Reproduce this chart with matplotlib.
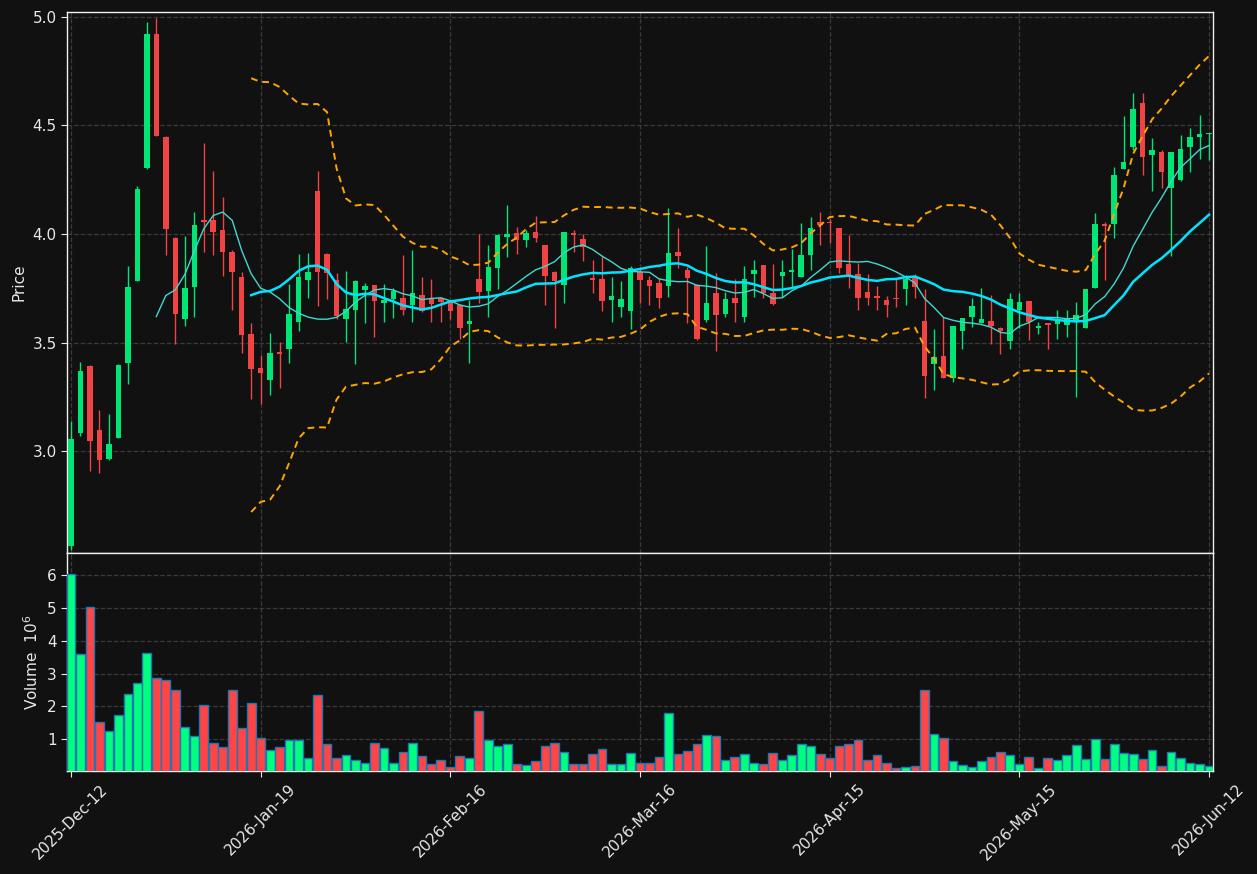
import numpy as np
import matplotlib
matplotlib.use("Agg")
import matplotlib.pyplot as plt

opens = [2.56, 3.084, 3.393, 3.097, 2.965, 3.062, 3.404, 3.785, 4.302, 4.922,
         4.448, 3.983, 3.610, 3.754, 4.065, 4.066, 4.020, 3.919, 3.803, 3.541,
         3.384, 3.326, 3.458, 3.469, 3.593, 3.786, 4.200, 3.909, 3.790, 3.607,
         3.648, 3.742, 3.765, 3.683, 3.700, 3.705, 3.672, 3.717, 3.700, 3.706,
         3.686, 3.675, 3.586, 3.792, 3.738, 3.845, 3.988, 4.003, 3.974, 4.009,
         3.949, 3.825, 3.766, 4.006, 3.977, 3.797, 3.794, 3.697, 3.665, 3.646,
         3.826, 3.788, 3.774, 3.762, 3.918, 3.834, 3.765, 3.605, 3.728, 3.631,
         3.705, 3.618, 3.817, 3.855, 3.728, 3.808, 3.825, 3.803, 3.905, 4.055,
         4.055, 4.026, 3.860, 3.814, 3.731, 3.712, 3.694, 3.705, 3.748, 3.800,
         3.598, 3.401, 3.437, 3.336, 3.554, 3.619, 3.591, 3.599, 3.566, 3.508,
         3.651, 3.691, 3.568, 3.590, 3.586, 3.582, 3.600, 3.567, 3.752, 4.044,
         4.048, 4.301, 4.400, 4.604, 4.363, 4.377, 4.212, 4.248, 4.400, 4.446,
         4.459]
highs = [3.14, 3.41, 3.395, 3.188, 3.172, 3.40, 3.852, 4.221, 4.976, 4.995,
         4.45, 3.985, 3.990, 4.102, 4.420, 4.289, 4.171, 3.928, 3.825, 3.591,
         3.444, 3.544, 3.502, 3.771, 3.906, 3.912, 4.289, 3.911, 3.820, 3.829,
         3.790, 3.772, 3.767, 3.768, 3.749, 3.902, 3.926, 3.800, 3.791, 3.708,
         3.695, 3.677, 3.698, 3.998, 3.948, 4.0, 4.134, 4.031, 4.018, 4.083,
         3.951, 3.829, 4.009, 4.018, 3.998, 3.880, 3.898, 3.800, 3.785, 3.854,
         3.849, 3.808, 3.795, 4.118, 4.026, 3.849, 3.770, 3.943, 3.818, 3.731,
         3.791, 3.854, 3.880, 3.857, 3.860, 3.880, 3.929, 4.049, 4.080, 4.103,
         4.068, 4.028, 3.997, 3.868, 3.815, 3.762, 3.715, 3.795, 3.811, 3.814,
         3.746, 3.560, 3.619, 3.576, 3.613, 3.704, 3.750, 3.718, 3.573, 3.727,
         3.727, 3.693, 3.596, 3.592, 3.650, 3.650, 3.687, 3.748, 4.098, 4.055,
         4.308, 4.546, 4.650, 4.650, 4.443, 4.385, 4.376, 4.454, 4.489, 4.549,
         4.465]
lows = [2.545, 3.068, 2.906, 2.897, 2.96, 3.058, 3.308, 3.783, 4.300, 4.45,
        3.903, 3.493, 3.576, 3.617, 3.916, 3.905, 3.805, 3.648, 3.452, 3.240,
        3.218, 3.257, 3.290, 3.406, 3.551, 3.704, 3.670, 3.700, 3.608, 3.502,
        3.402, 3.588, 3.526, 3.595, 3.611, 3.629, 3.595, 3.640, 3.595, 3.595,
        3.608, 3.518, 3.406, 3.680, 3.618, 3.745, 3.892, 3.906, 3.938, 3.962,
        3.671, 3.569, 3.680, 3.915, 3.877, 3.726, 3.646, 3.595, 3.618, 3.560,
        3.680, 3.675, 3.657, 3.708, 3.842, 3.592, 3.512, 3.595, 3.463, 3.618,
        3.595, 3.595, 3.708, 3.703, 3.672, 3.708, 3.757, 3.800, 3.834, 3.949,
        3.957, 3.818, 3.749, 3.652, 3.671, 3.648, 3.618, 3.665, 3.671, 3.703,
        3.246, 3.279, 3.336, 3.318, 3.471, 3.573, 3.590, 3.491, 3.449, 3.468,
        3.565, 3.511, 3.537, 3.472, 3.514, 3.526, 3.250, 3.565, 3.749, 3.790,
        3.983, 4.298, 4.385, 4.273, 4.198, 4.213, 3.899, 4.246, 4.285, 4.345,
        4.339]
closes = [3.056, 3.369, 3.048, 2.957, 3.033, 3.397, 3.757, 4.208, 4.922, 4.450,
          4.025, 3.630, 3.752, 4.043, 4.057, 4.008, 3.916, 3.826, 3.533, 3.379,
          3.358, 3.452, 3.445, 3.633, 3.803, 3.826, 3.823, 3.820, 3.621, 3.656,
          3.785, 3.760, 3.692, 3.698, 3.737, 3.652, 3.728, 3.646, 3.677, 3.686,
          3.646, 3.568, 3.598, 3.734, 3.848, 3.995, 4.000, 3.974, 4.003, 3.983,
          3.808, 3.783, 4.009, 3.997, 3.942, 3.789, 3.692, 3.714, 3.700, 3.842,
          3.788, 3.762, 3.706, 3.912, 3.898, 3.798, 3.515, 3.680, 3.628, 3.700,
          3.683, 3.792, 3.834, 3.726, 3.677, 3.825, 3.834, 3.902, 4.026, 4.042,
          4.051, 3.845, 3.800, 3.706, 3.706, 3.706, 3.672, 3.702, 3.792, 3.757,
          3.346, 3.431, 3.336, 3.576, 3.613, 3.668, 3.608, 3.577, 3.554, 3.701,
          3.687, 3.594, 3.576, 3.582, 3.603, 3.611, 3.629, 3.748, 4.048, 4.037,
          4.273, 4.334, 4.577, 4.354, 4.388, 4.285, 4.376, 4.390, 4.449, 4.459,
          4.465]
volumes_m = [6.02, 3.59, 5.02, 1.54, 1.24, 1.73, 2.37, 2.70, 3.62, 2.86,
             2.79, 2.49, 1.36, 1.09, 2.03, 0.90, 0.75, 2.49, 1.33, 2.09,
             1.03, 0.66, 0.75, 0.97, 0.97, 0.42, 2.34, 0.87, 0.42, 0.51,
             0.36, 0.29, 0.90, 0.72, 0.29, 0.60, 0.90, 0.48, 0.26, 0.36,
             0.17, 0.48, 0.42, 1.85, 0.97, 0.78, 0.87, 0.26, 0.23, 0.33,
             0.78, 0.90, 0.60, 0.26, 0.26, 0.54, 0.69, 0.26, 0.26, 0.57,
             0.29, 0.29, 0.45, 1.79, 0.54, 0.63, 0.84, 1.12, 1.09, 0.38,
             0.45, 0.54, 0.29, 0.26, 0.57, 0.38, 0.51, 0.87, 0.78, 0.54,
             0.42, 0.78, 0.87, 0.97, 0.36, 0.51, 0.29, 0.11, 0.14, 0.20,
             2.49, 1.15, 1.03, 0.33, 0.23, 0.17, 0.33, 0.45, 0.60, 0.51,
             0.26, 0.45, 0.11, 0.42, 0.36, 0.51, 0.81, 0.39, 1.00, 0.39,
             0.87, 0.57, 0.54, 0.39, 0.66, 0.20, 0.60, 0.42, 0.29, 0.26,
             0.20]
tick_labels = ["2025-Dec-12", "2026-Jan-19", "2026-Feb-16", "2026-Mar-16",
               "2026-Apr-15", "2026-May-15", "2026-Jun-12"]

o = np.array(opens); h = np.array(highs); l = np.array(lows); c = np.array(closes)
v = np.array(volumes_m)
n = len(c)
x = np.arange(n)

def sma(a, w):
    out = np.full(len(a), np.nan)
    for i in range(w - 1, len(a)):
        out[i] = a[i - w + 1:i + 1].mean()
    return out

def rstd(a, w):
    out = np.full(len(a), np.nan)
    for i in range(w - 1, len(a)):
        out[i] = a[i - w + 1:i + 1].std()
    return out

ma10 = sma(c, 10)
ma20 = sma(c, 20)
sd20 = rstd(c, 20)
upper = ma20 + 2 * sd20
lower = ma20 - 2 * sd20

BG = "#111111"
UP_C, DN_C = "#00e676", "#f04444"
UP_V, DN_V = "#00ff7f", "#ff4545"
TXT = "#e8e8e8"

plt.rcParams["font.family"] = ["DejaVu Sans"]
fig = plt.figure(figsize=(12.57, 8.74), dpi=100, facecolor=BG)
L, R = 67 / 1257, 1213 / 1257
ax = fig.add_axes([L, 1 - 553 / 874, R - L, (553 - 12) / 874])
axv = fig.add_axes([L, 1 - 771 / 874, R - L, (771 - 553) / 874], sharex=ax)

for a in (ax, axv):
    a.set_facecolor(BG)
    for s in a.spines.values():
        s.set_color("#f0f0f0")
        s.set_linewidth(1.0)
    a.tick_params(colors=TXT, labelsize=11, length=4)
    a.grid(True, color="#3a3a3a", linestyle="--", linewidth=0.9)
    a.set_axisbelow(True)

up = c >= o
cols = np.where(up, UP_C, DN_C)
ax.vlines(x, l, h, colors=cols, linewidth=1.0, zorder=2)
body_lo = np.minimum(o, c)
body_h = np.maximum(np.abs(c - o), 0.004)
ax.bar(x, body_h, bottom=body_lo, width=0.58, color=cols, linewidth=0, zorder=3)

ax.plot(x, ma10, color="#40d8d0", linewidth=1.0, zorder=4)
ax.plot(x, ma20, color="#00e5ff", linewidth=1.8, zorder=4)
ax.plot(x, upper, color="#ffa500", linewidth=1.4, linestyle=(0, (3.5, 2.5)), zorder=4)
ax.plot(x, lower, color="#ffa500", linewidth=1.4, linestyle=(0, (3.5, 2.5)), zorder=4)

ax.set_ylim(2.530, 5.023)
ax.set_yticks([3.0, 3.5, 4.0, 4.5, 5.0])
ax.set_ylabel("Price", color=TXT, fontsize=11)
ax.tick_params(axis="x", labelbottom=False)

vcols = np.where(up, UP_V, DN_V)
axv.bar(x, v, width=0.92, color=vcols, edgecolor="#1f77b4", linewidth=1.0, zorder=3)
axv.set_ylim(0.033, 6.67)
axv.set_yticks([1, 2, 3, 4, 5, 6])
axv.set_ylabel("Volume  $10^{6}$", color=TXT, fontsize=11)

ticks = list(range(0, n, 20))
axv.set_xticks(ticks)
axv.set_xticklabels(tick_labels, rotation=45, ha="center", color=TXT, fontsize=11)
axv.set_xlim(-0.42, n - 1 + 0.42)

fig.savefig("out.png", dpi=100, facecolor=BG)
